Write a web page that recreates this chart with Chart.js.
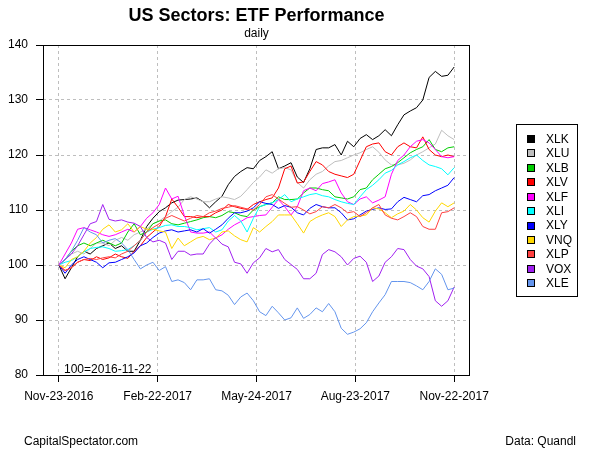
<!DOCTYPE html>
<html><head><meta charset="utf-8">
<script src="https://cdn.jsdelivr.net/npm/chart.js@4.4.0/dist/chart.umd.min.js"></script>
<style>html,body{margin:0;padding:0;background:#fff;}canvas{display:block;}</style>
</head><body>
<canvas id="c" width="600" height="450"></canvas>
<script>
const chartTitle = 'US Sectors: ETF Performance';
const chartSubtitle = 'daily';
const baseNote = '100=2016-11-22';
const sourceLeft = 'CapitalSpectator.com';
const sourceRight = 'Data: Quandl';

const seriesNames = ['XLK','XLU','XLB','XLV','XLF','XLI','XLY','VNQ','XLP','VOX','XLE'];
const seriesColors = ['#000000','#BEBEBE','#00CD00','#FF0000','#FF00FF','#00FFFF','#0000FF','#FFD700','#FF4040','#A020F0','#6495ED'];

// x: calendar days since 2016-11-23 (sampled), ticks every 13 weeks
const spanDays = 364;
const tickDays = [0, 91, 182, 273, 364];
const tickLabels = ['Nov-23-2016','Feb-22-2017','May-24-2017','Aug-23-2017','Nov-22-2017'];
const yMin = 80, yMax = 140, yStep = 10;

const XLK = [100.0,97.5,99.5,101.5,102.5,102.0,103.0,103.5,104.0,103.0,
 103.5,102.5,102.5,104.5,107.0,108.5,109.7,110.4,111.3,111.8,
 111.9,112.0,112.2,111.5,110.4,111.5,112.5,114.6,116.1,117.0,
 117.7,117.5,119.0,119.7,120.6,117.5,118.0,118.6,116.0,115.0,
 117.5,121.0,121.3,121.3,121.9,120.0,122.5,121.5,123.0,123.7,
 122.8,123.5,124.6,123.5,125.5,127.3,128.0,128.6,130.0,134.1,
 135.2,134.3,134.5,136.0];
const XLU = [100.0,101.0,102.0,102.5,102.0,103.0,104.0,104.0,103.5,104.5,
 105.0,104.5,105.5,106.0,106.5,107.5,108.0,108.8,109.7,110.5,
 111.9,112.4,112.0,111.5,111.5,112.0,112.4,112.2,111.9,112.5,
 113.7,115.0,116.0,117.3,116.7,117.5,117.7,117.3,115.0,114.0,
 115.5,116.5,117.0,118.0,118.8,119.0,119.5,120.0,120.4,121.0,
 121.5,120.5,119.1,118.2,118.2,118.5,119.1,120.0,120.6,121.3,
 122.0,124.5,123.5,122.8];
const XLB = [100.0,101.0,102.5,103.5,104.0,103.5,104.0,104.5,104.0,103.5,
 104.0,106.0,107.5,105.5,106.0,107.5,108.0,108.2,107.5,107.3,
 107.6,107.9,108.2,108.6,108.8,108.6,109.0,109.7,109.5,109.0,
 108.8,110.0,110.6,111.0,111.3,112.4,111.9,111.9,112.0,113.1,
 114.0,114.0,113.7,113.5,112.4,112.2,112.0,112.4,113.7,114.0,
 115.5,116.5,117.5,117.9,118.6,119.5,120.4,121.0,121.5,122.8,
 121.0,120.6,121.3,121.5];
const XLV = [100.0,99.0,99.5,100.5,101.0,100.8,101.5,101.0,101.3,102.0,
 101.5,101.2,102.5,103.5,105.0,106.0,107.0,108.8,112.0,110.5,
 108.8,108.8,108.6,108.8,108.8,109.5,110.0,111.0,110.6,110.3,
 110.1,111.0,111.5,111.9,112.2,114.0,117.5,118.0,114.9,115.1,
 117.0,118.8,118.2,117.0,116.5,116.2,115.9,116.5,119.0,121.5,
 122.0,122.2,120.6,120.0,121.5,122.2,121.5,121.3,123.3,121.0,
 120.0,119.7,120.0,119.7];
const XLF = [100.0,102.0,104.0,106.5,106.8,106.4,106.0,105.5,105.2,105.5,
 106.0,106.5,106.0,107.0,108.5,109.5,111.0,114.0,112.0,112.5,
 109.0,106.0,105.8,105.8,106.0,104.9,105.5,106.5,107.3,107.9,
 108.6,108.8,109.0,109.1,110.5,111.9,110.6,109.1,110.6,113.5,
 114.0,113.5,114.8,115.1,115.5,113.1,111.5,111.0,112.0,112.4,
 111.3,111.8,112.4,116.5,119.0,120.0,121.5,122.5,122.8,122.2,
 121.0,119.7,119.5,119.7];
const XLI = [100.0,100.5,100.8,101.5,102.4,103.0,103.2,103.3,103.0,102.5,
 102.6,102.8,103.5,104.5,106.0,106.5,106.8,107.2,107.3,107.0,
 107.0,106.8,106.4,106.6,106.8,106.0,106.4,108.0,109.0,108.0,
 106.0,108.5,110.6,111.0,111.3,111.9,112.8,111.5,112.0,112.4,
 112.8,113.0,112.6,112.4,111.9,111.5,111.2,111.0,112.4,113.7,
 114.5,115.5,116.7,117.2,118.2,118.8,119.5,120.0,119.0,118.2,
 117.9,117.5,116.4,117.7];
const XLY = [100.0,98.5,100.0,101.0,101.5,101.0,100.5,99.5,100.4,100.5,
 101.0,101.5,102.2,103.5,104.0,105.0,105.8,106.2,106.4,106.0,
 106.2,106.4,106.0,106.6,105.8,106.5,107.3,108.5,109.5,109.5,
 109.8,110.4,111.5,111.2,111.0,110.3,110.8,110.5,109.5,109.1,
 110.3,111.0,110.6,110.4,110.4,109.5,108.2,108.4,109.1,109.8,
 110.1,110.4,110.1,110.2,111.5,112.3,111.9,111.5,112.6,112.8,
 113.5,114.0,114.5,115.9];
const VNQ = [100.0,99.5,101.0,101.5,102.5,104.0,105.0,106.5,107.3,106.0,
 106.4,107.5,106.0,107.0,106.5,106.5,106.2,106.0,103.0,104.9,
 103.5,104.2,104.9,105.2,104.6,104.9,106.0,106.2,105.3,104.6,
 104.2,106.8,106.0,107.0,107.9,109.1,109.1,109.1,107.5,105.8,
 107.9,108.6,109.1,109.5,108.8,107.0,108.2,108.8,108.9,109.1,
 110.4,110.2,109.5,108.6,109.3,109.8,111.0,110.0,108.6,107.8,
 109.8,111.3,110.6,111.3];
const XLP = [100.0,99.0,99.5,100.5,101.0,101.2,101.0,101.3,101.5,101.3,
 102.0,102.5,103.5,104.5,106.0,106.8,107.5,108.5,109.0,108.5,
 108.0,108.5,109.0,108.8,109.5,109.8,110.3,110.5,110.8,110.5,
 110.2,110.0,111.0,112.4,112.8,112.0,111.2,110.5,110.6,110.0,
 109.3,109.7,110.6,110.4,111.0,110.4,109.5,109.7,108.8,109.5,
 110.4,111.0,109.1,108.5,108.2,108.8,109.5,108.8,107.0,106.5,
 106.5,109.5,109.7,110.4];
const VOX = [100.0,101.0,102.0,103.5,105.5,107.5,107.9,111.0,108.3,108.0,
 108.2,107.8,107.6,107.0,105.0,104.2,104.5,104.0,101.0,102.5,
 102.5,101.8,102.0,102.0,103.8,105.0,103.8,103.3,100.5,100.2,
 98.5,100.4,101.3,103.0,102.4,102.8,101.0,100.1,99.2,97.5,
 97.5,98.5,101.9,102.8,102.4,101.5,100.0,101.2,101.6,100.5,
 97.0,98.0,100.5,101.5,103.0,102.8,101.0,99.8,99.3,97.9,
 93.5,92.5,93.5,96.0];
const XLE = [100.0,101.0,102.5,104.5,106.8,106.0,105.5,104.0,104.5,104.8,
 104.0,102.8,101.0,99.3,100.0,100.5,99.0,99.7,97.0,97.3,
 96.8,95.5,97.3,97.3,97.5,95.5,95.3,94.5,92.8,94.2,
 94.9,93.5,91.5,90.8,92.5,91.3,90.0,90.4,92.2,90.3,
 91.0,92.2,91.5,93.0,91.5,88.5,87.4,87.8,88.4,89.5,
 91.5,93.1,94.6,97.0,97.0,97.0,96.8,96.2,95.5,97.0,
 99.3,98.3,95.5,95.8];

const allSeries = [XLK, XLU, XLB, XLV, XLF, XLI, XLY, VNQ, XLP, VOX, XLE];

const FONT = "'Liberation Sans', Arial, Helvetica, sans-serif";
Chart.defaults.font.family = FONT;
Chart.defaults.font.size = 12;
Chart.defaults.color = '#000';

const datasets = seriesNames.map((name, i) => ({
  label: name,
  data: allSeries[i].map((v, k) => ({ x: k * spanDays / (allSeries[i].length - 1), y: v })),
  borderColor: seriesColors[i],
  backgroundColor: seriesColors[i],
  borderWidth: 1,
  pointRadius: 0,
  pointHoverRadius: 0,
  tension: 0,
  fill: false,
  order: seriesNames.length - i
}));

const gridOpts = { color: '#BEBEBE', lineWidth: 1, tickLength: 7, tickColor: '#000', tickWidth: 1, tickBorderDash: [], drawOnChartArea: true, drawTicks: true };
const borderOpts = { display: false, dash: [3, 3] };

const decor = {
  id: 'decor',
  afterDatasetsDraw(chart) {
    const { ctx, chartArea: a } = chart;
    ctx.save();
    ctx.strokeStyle = '#000';
    ctx.lineWidth = 1;
    ctx.setLineDash([]);
    ctx.strokeRect(Math.round(a.left) + 0.5, Math.round(a.top) + 0.5,
      Math.round(a.right - a.left) - 1, Math.round(a.bottom - a.top));
    ctx.restore();
  },
  afterDraw(chart) {
    const { ctx, chartArea: a } = chart;
    ctx.save();
    ctx.fillStyle = '#000';
    ctx.textAlign = 'center';
    ctx.textBaseline = 'alphabetic';
    ctx.font = 'bold 18px ' + FONT;
    ctx.fillText(chartTitle, (a.left + a.right) / 2, 21);
    ctx.font = '12px ' + FONT;
    ctx.fillText(chartSubtitle, (a.left + a.right) / 2, 37);

    ctx.textAlign = 'left';
    ctx.fillText(baseNote, a.left + 21, a.bottom - 2);
    ctx.fillText(sourceLeft, 24, 445);
    ctx.textAlign = 'right';
    ctx.fillText(sourceRight, 576, 445);

    // legend
    ctx.lineWidth = 1;
    ctx.strokeStyle = '#000';
    ctx.strokeRect(516.5, 124.5, 61, 172);
    ctx.textAlign = 'left';
    ctx.textBaseline = 'middle';
    seriesNames.forEach((n, i) => {
      const cy = 139 + i * 14.43;
      const y0 = Math.round(cy - 4);
      ctx.fillStyle = seriesColors[i];
      ctx.fillRect(527, y0, 8, 8);
      ctx.strokeStyle = '#000';
      ctx.strokeRect(527.5, y0 + 0.5, 7, 7);
      ctx.fillStyle = '#000';
      ctx.fillText(n, 546, cy + 0.5);
    });
    ctx.restore();
  }
};

new Chart(document.getElementById('c'), {
  type: 'line',
  data: { datasets },
  options: {
    responsive: false,
    animation: false,
    devicePixelRatio: 1,
    events: [],
    layout: { padding: { left: 0, right: 130, top: 45, bottom: 45 } },
    plugins: { legend: { display: false }, tooltip: { enabled: false }, title: { display: false } },
    scales: {
      x: {
        type: 'linear',
        min: -0.04 * spanDays,
        max: spanDays * 1.04,
        afterBuildTicks: s => { s.ticks = tickDays.map(v => ({ value: v })); },
        afterFit: s => { s.height = 30; },
        ticks: { autoSkip: false, maxRotation: 0, minRotation: 0, padding: 7, color: '#000', font: { size: 12 },
                 callback: (v, i) => tickLabels[i] },
        grid: gridOpts,
        border: borderOpts
      },
      y: {
        type: 'linear',
        min: yMin,
        max: yMax,
        afterFit: s => { s.width = 43; },
        ticks: { stepSize: yStep, padding: 8, color: '#000', font: { size: 12 } },
        grid: gridOpts,
        border: borderOpts
      }
    }
  },
  plugins: [decor]
});
</script>
</body></html>
